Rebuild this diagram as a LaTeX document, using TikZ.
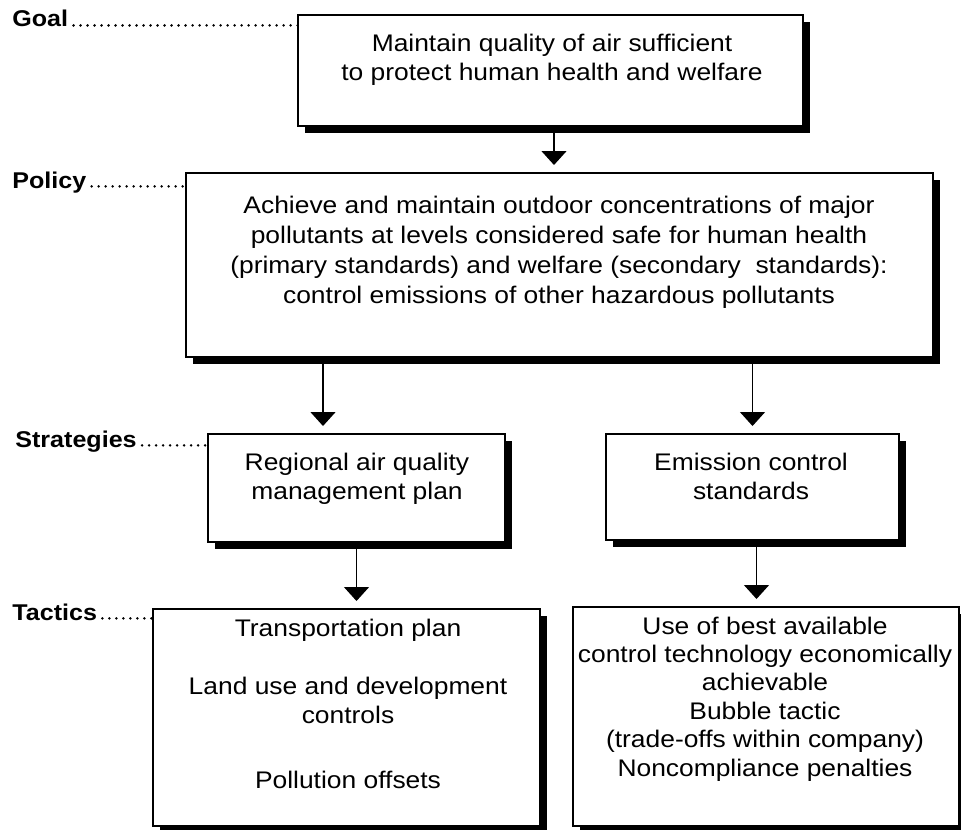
\documentclass[tikz,border=0pt]{standalone}
\usepackage{fontspec}
\setmainfont{Liberation Sans}[FakeStretch=1.1]
\usetikzlibrary{arrows.meta,shadows}

\begin{document}
\begin{tikzpicture}[x=0.5pt,y=-0.5pt]
  \tikzset{planbox/.style={rectangle,draw=black,line width=0.75pt,fill=white,inner sep=0pt,outer sep=0pt,
      drop shadow={shadow xshift=3.5pt,shadow yshift=-3.5pt,fill=black,opacity=1}}}
  \tikzset{boxtext/.style={font=\fontsize{12}{14.5}\selectfont,align=center,inner sep=0pt,anchor=base}}
  \tikzset{levellabel/.style={font=\fontsize{11.4}{13}\selectfont\bfseries,inner sep=0pt,anchor=base west}}
  \tikzset{leader/.style={draw=black,line width=1.4pt,line cap=round,dash pattern=on 0pt off 3.5pt}}
  \tikzset{flowarrow/.style={draw=black,line width=0.7pt,-{Triangle[width=12.5pt,length=7pt]},shorten >=4pt}}
  \useasboundingbox (0,0) rectangle (961,829);
  \clip (0,0) rectangle (961,829);
  \node[planbox,minimum width=252.5pt,minimum height=55.5pt] (goal) at (550.500,70.500) {};
  \node[planbox,minimum width=373.5pt,minimum height=92.0pt] (policy) at (559.500,265.000) {};
  \node[planbox,minimum width=148.5pt,minimum height=54.0pt] (regional) at (356.500,488.000) {};
  \node[planbox,minimum width=146.5pt,minimum height=53.0pt] (emission) at (752.500,487.000) {};
  \node[planbox,minimum width=193.5pt,minimum height=108.5pt] (transport) at (346.500,717.500) {};
  \node[planbox,minimum width=193.0pt,minimum height=109.5pt] (control) at (766.000,716.500) {};
  \node[boxtext] (goaltext) at (552.000,81.000) {Maintain quality of air sufficient\\to protect human health and welfare};
  \node[boxtext,font=\fontsize{12}{15}\selectfont] (policytext) at (559.000,303.000) {Achieve and maintain outdoor concentrations of major\\pollutants at levels considered safe for human health\\(primary standards) and welfare (secondary~ standards):\\control emissions of other hazardous pollutants};
  \node[boxtext] (regionaltext) at (357.000,499.000) {Regional air quality\\management plan};
  \node[boxtext] (emissiontext) at (751.000,499.000) {Emission control\\standards};
  \node[boxtext] (transporttext) at (348.000,788.000) {Transportation plan\\[14.5pt]Land use and development\\controls\\[18pt]Pollution offsets};
  \node[boxtext,font=\fontsize{12}{14.2}\selectfont] (controltext) at (765.000,776.000) {Use of best available\\control technology economically\\achievable\\Bubble tactic\\(trade-offs within company)\\Noncompliance penalties};
  \node[levellabel] (goallabel) at (12.000,27.000) {Goal};
  \node[levellabel] (policylabel) at (12.000,188.000) {Policy};
  \node[levellabel] (strategylabel) at (15.000,447.000) {Strategies};
  \node[levellabel] (tacticlabel) at (12.000,620.000) {Tactics};
  \draw[leader] ([xshift=2.5pt,yshift=0.8pt]goallabel.base east) -- ([yshift=0.8pt]goallabel.base east -| goal.west);
  \draw[leader] ([xshift=2.5pt,yshift=0.8pt]policylabel.base east) -- ([yshift=0.8pt]policylabel.base east -| policy.west);
  \draw[leader] ([xshift=2.5pt,yshift=0.8pt]strategylabel.base east) -- ([yshift=0.8pt]strategylabel.base east -| regional.west);
  \draw[leader] ([xshift=2.5pt,yshift=0.8pt]tacticlabel.base east) -- ([yshift=0.8pt]tacticlabel.base east -| transport.west);
  \draw[flowarrow] ([xshift=1.75pt]goal.south) -- ([xshift=1.75pt]goal.south |- policy.north);
  \draw[flowarrow] ([xshift=-16.75pt]regional.north |- policy.south) -- ([xshift=-16.75pt]regional.north);
  \draw[flowarrow] (emission.north |- policy.south) -- (emission.north);
  \draw[flowarrow] (regional.south) -- (regional.south |- transport.north);
  \draw[flowarrow] ([xshift=2pt]emission.south) -- ([xshift=2pt]emission.south |- control.north);
\end{tikzpicture}
\end{document}
